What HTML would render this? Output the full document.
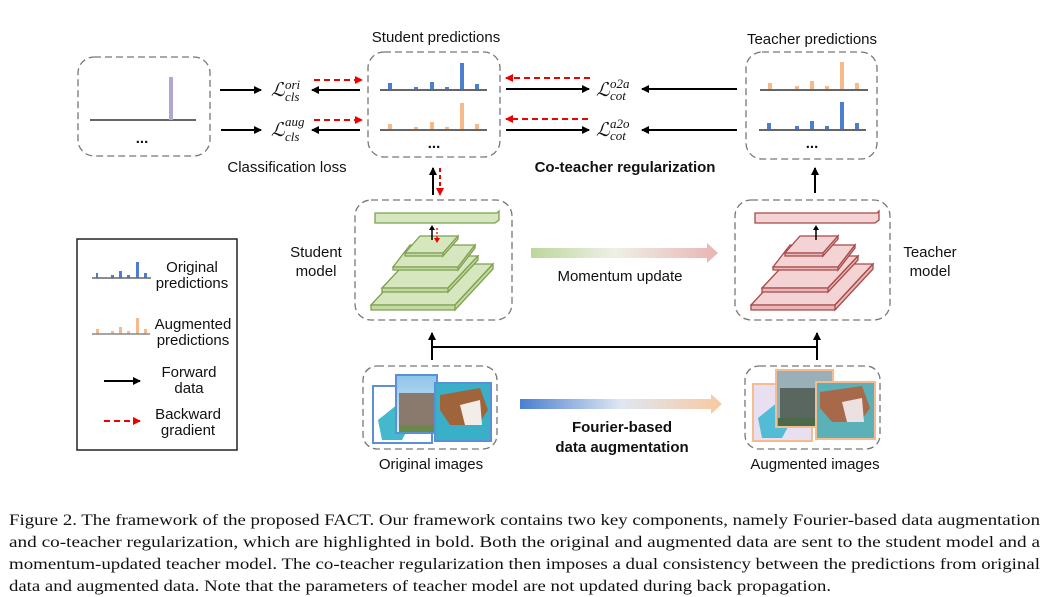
<!DOCTYPE html>
<html><head><meta charset="utf-8"><style>
body{margin:0;background:#fff;}
svg{display:block;}
.s{font-family:"Liberation Sans",sans-serif;font-size:15px;fill:#111;}
.m{font-family:"Liberation Serif",serif;font-style:italic;fill:#111;}
.c{font-family:"Liberation Serif",serif;font-size:16px;fill:#111;}
</style></head><body>
<svg width="1048" height="597" viewBox="0 0 1048 597" xmlns="http://www.w3.org/2000/svg">
<defs>
<marker id="ab" markerWidth="8" markerHeight="8" refX="7" refY="4" orient="auto" markerUnits="userSpaceOnUse"><path d="M0,0 L8,4 L0,8 Z" fill="#000"/></marker>
<marker id="ar" markerWidth="8" markerHeight="8" refX="7" refY="4" orient="auto" markerUnits="userSpaceOnUse"><path d="M0,0 L8,4 L0,8 Z" fill="#e00"/></marker>
<linearGradient id="gm" x1="0" x2="1"><stop offset="0" stop-color="#bcd79a"/><stop offset="0.45" stop-color="#eef0e6"/><stop offset="1" stop-color="#e9b4b4"/></linearGradient>
<linearGradient id="gf" x1="0" x2="1"><stop offset="0" stop-color="#4a7fcf"/><stop offset="0.5" stop-color="#dfe6f3"/><stop offset="1" stop-color="#f8c9a0"/></linearGradient>
<linearGradient id="sky" x1="0" y1="0" x2="0" y2="1"><stop offset="0" stop-color="#8ec4ea"/><stop offset="1" stop-color="#dfeef8"/></linearGradient>
</defs>
<g fill="none" stroke="#777" stroke-width="1.3" stroke-dasharray="7,4">
<rect x="78" y="57" width="132" height="99" rx="16"/>
<rect x="368" y="52" width="132" height="105" rx="16"/>
<rect x="746" y="52" width="131" height="107" rx="16"/>
<rect x="355" y="200" width="157" height="120" rx="16"/>
<rect x="735" y="200" width="155" height="120" rx="16"/>
<rect x="363" y="366" width="134" height="83" rx="14"/>
<rect x="745" y="366" width="135" height="83" rx="14"/>
</g>
<line x1="90" y1="120" x2="196" y2="120" stroke="#666" stroke-width="2"/>
<rect x="169" y="77" width="4" height="43" fill="#b3a6d0"/>
<text x="142" y="143" class="s" font-weight="bold" text-anchor="middle">...</text>
<g fill="#4a7fcf"><rect x="388" y="83" width="4" height="7"/><rect x="414" y="87" width="4" height="3"/><rect x="430" y="82" width="4" height="8"/><rect x="445" y="87" width="4" height="3"/><rect x="460" y="63" width="4" height="27"/><rect x="475" y="84" width="4" height="6"/></g>
<g fill="#f7b98a"><rect x="388" y="124" width="4" height="6"/><rect x="414" y="127" width="4" height="3"/><rect x="430" y="122" width="4" height="8"/><rect x="445" y="127" width="4" height="3"/><rect x="460" y="103" width="4" height="27"/><rect x="475" y="124" width="4" height="6"/></g>
<line x1="380" y1="90" x2="487" y2="90" stroke="#666" stroke-width="2"/>
<line x1="380" y1="130" x2="487" y2="130" stroke="#666" stroke-width="2"/>
<text x="434" y="148" class="s" font-weight="bold" text-anchor="middle">...</text>
<g fill="#f7b98a"><rect x="768" y="83" width="4" height="7"/><rect x="795" y="86" width="4" height="4"/><rect x="810" y="81" width="4" height="9"/><rect x="825" y="86" width="4" height="4"/><rect x="840" y="62" width="4" height="28"/><rect x="855" y="83" width="4" height="7"/></g>
<g fill="#4a7fcf"><rect x="767" y="123" width="4" height="7"/><rect x="795" y="126" width="4" height="4"/><rect x="810" y="121" width="4" height="9"/><rect x="825" y="126" width="4" height="4"/><rect x="840" y="102" width="4" height="28"/><rect x="855" y="123" width="4" height="7"/></g>
<line x1="760" y1="90" x2="868" y2="90" stroke="#666" stroke-width="2"/>
<line x1="759" y1="130" x2="866" y2="130" stroke="#666" stroke-width="2"/>
<text x="812" y="148" class="s" font-weight="bold" text-anchor="middle">...</text>
<text x="436" y="42" class="s" text-anchor="middle">Student predictions</text>
<text x="812" y="44" class="s" text-anchor="middle">Teacher predictions</text>
<text x="287" y="172" class="s" text-anchor="middle">Classification loss</text>
<text x="625" y="172" class="s" font-weight="bold" text-anchor="middle">Co-teacher regularization</text>
<text x="271" y="96" class="m" font-size="19">ℒ</text><text x="285" y="89" class="m" font-size="13">ori</text><text x="285" y="101" class="m" font-size="13">cls</text>
<text x="271" y="136" class="m" font-size="19">ℒ</text><text x="285" y="126" class="m" font-size="13">aug</text><text x="285" y="141" class="m" font-size="13">cls</text>
<text x="596" y="96" class="m" font-size="19">ℒ</text><text x="610" y="88" class="m" font-size="13">o2a</text><text x="610" y="100" class="m" font-size="13">cot</text>
<text x="596" y="136" class="m" font-size="19">ℒ</text><text x="610" y="128" class="m" font-size="13">a2o</text><text x="610" y="140" class="m" font-size="13">cot</text>
<g stroke="#000" stroke-width="2" marker-end="url(#ab)">
<line x1="220" y1="90" x2="261" y2="90"/><line x1="221" y1="130" x2="261" y2="130"/>
<line x1="360" y1="90" x2="312" y2="90"/><line x1="360" y1="130" x2="312" y2="130"/>
<line x1="506" y1="89" x2="589" y2="89"/><line x1="506" y1="130" x2="589" y2="130"/>
<line x1="737" y1="89" x2="642" y2="89"/><line x1="737" y1="130" x2="642" y2="130"/>
<line x1="433" y1="195" x2="433" y2="168"/>
<line x1="815" y1="193" x2="815" y2="168"/>
<line x1="432" y1="360" x2="432" y2="333"/>
<line x1="817" y1="360" x2="817" y2="333"/>
<line x1="104" y1="381" x2="140" y2="381"/>
</g>
<line x1="431" y1="347" x2="818" y2="347" stroke="#000" stroke-width="2"/>
<g stroke="#e00" stroke-width="2" stroke-dasharray="6,4" marker-end="url(#ar)">
<line x1="314" y1="80" x2="362" y2="80"/><line x1="314" y1="120" x2="362" y2="120"/>
<line x1="590" y1="78" x2="506" y2="78"/><line x1="588" y1="119" x2="506" y2="119"/>
<line x1="440" y1="168" x2="440" y2="195" stroke-dasharray="4,3"/>
<line x1="104" y1="421" x2="140" y2="421"/>
</g>
<g stroke="#7ea14e" stroke-width="1.3">
<path d="M375,213 L497,213 L499,211 L499,220 L495,223 L375,223 Z" fill="#d6e6bf"/>
<path d="M371,305 L409,264 L493,264 L455,305 Z" fill="#d6e6bf"/>
<path d="M371,305 L455,305 L455,310 L371,310 Z M455,305 L493,264 L493,269 L455,310Z" fill="#c3d9a3"/>
<path d="M382,288 L412,256 L478,256 L448,288 Z" fill="#d6e6bf"/>
<path d="M382,288 L448,288 L448,292 L382,292 Z M448,288 L478,256 L478,260 L448,292Z" fill="#c3d9a3"/>
<path d="M393,267 L410,245 L475,245 L458,267 Z" fill="#d6e6bf"/>
<path d="M393,267 L458,267 L458,270 L393,270 Z M458,267 L475,245 L475,248 L458,270Z" fill="#c3d9a3"/>
<path d="M405,253 L420,236 L458,236 L443,253 Z" fill="#d6e6bf"/>
<path d="M405,253 L443,253 L443,256 L405,256 Z M443,253 L458,236 L458,239 L443,256Z" fill="#c3d9a3"/>
</g>
<g transform="translate(380,0)" stroke="#a84848" stroke-width="1.3">
<path d="M375,213 L497,213 L499,211 L499,220 L495,223 L375,223 Z" fill="#f3d3d3"/>
<path d="M371,305 L409,264 L493,264 L455,305 Z" fill="#f3d3d3"/>
<path d="M371,305 L455,305 L455,310 L371,310 Z M455,305 L493,264 L493,269 L455,310Z" fill="#e8b8b8"/>
<path d="M382,288 L412,256 L478,256 L448,288 Z" fill="#f3d3d3"/>
<path d="M382,288 L448,288 L448,292 L382,292 Z M448,288 L478,256 L478,260 L448,292Z" fill="#e8b8b8"/>
<path d="M393,267 L410,245 L475,245 L458,267 Z" fill="#f3d3d3"/>
<path d="M393,267 L458,267 L458,270 L393,270 Z M458,267 L475,245 L475,248 L458,270Z" fill="#e8b8b8"/>
<path d="M405,253 L420,236 L458,236 L443,253 Z" fill="#f3d3d3"/>
<path d="M405,253 L443,253 L443,256 L405,256 Z M443,253 L458,236 L458,239 L443,256Z" fill="#e8b8b8"/>
</g>
<line x1="432" y1="240" x2="432" y2="228" stroke="#000" stroke-width="1.5"/><path d="M429,230 L432,225 L435,230Z" fill="#000"/>
<line x1="437" y1="228" x2="437" y2="240" stroke="#e00" stroke-width="1.3" stroke-dasharray="2,2"/><path d="M434,238 L437,243 L440,238Z" fill="#e00"/>
<line x1="816" y1="240" x2="816" y2="228" stroke="#000" stroke-width="1.5"/><path d="M813,230 L816,225 L819,230Z" fill="#000"/>
<text x="316" y="257" class="s" text-anchor="middle">Student</text><text x="316" y="276" class="s" text-anchor="middle">model</text>
<text x="930" y="257" class="s" text-anchor="middle">Teacher</text><text x="930" y="276" class="s" text-anchor="middle">model</text>
<path d="M531,248 L707,248 L707,243 L718,253 L707,263 L707,258 L531,258 Z" fill="url(#gm)"/>
<text x="620" y="281" class="s" text-anchor="middle">Momentum update</text>
<path d="M520,399 L711,399 L711,394 L722,404 L711,414 L711,409 L520,409 Z" fill="url(#gf)"/>
<text x="622" y="432" class="s" font-weight="bold" text-anchor="middle">Fourier-based</text>
<text x="622" y="452" class="s" font-weight="bold" text-anchor="middle">data augmentation</text>
<rect x="373" y="386" width="59" height="57" fill="#fff" stroke="#5b8fd6" stroke-width="2"/>
<path d="M378,420 L398,404 L410,425 L402,440 L382,440Z" fill="#44b8cc"/>
<rect x="396" y="375" width="41" height="58" fill="url(#sky)" stroke="#5b8fd6" stroke-width="2"/>
<rect x="399" y="393" width="35" height="32" fill="#8a7a6e"/><rect x="399" y="425" width="35" height="7" fill="#6a8a4a"/>
<rect x="435" y="383" width="56" height="58" fill="#3ab0c8" stroke="#5b8fd6" stroke-width="2"/>
<path d="M440,395 L480,388 L488,410 L478,425 L450,425 L440,410Z" fill="#a0643a"/><path d="M460,405 L480,400 L482,425 L465,425Z" fill="#f2ede6"/>
<rect x="753" y="384" width="59" height="57" fill="#e8e0f0" stroke="#f5bd8f" stroke-width="2"/>
<path d="M758,418 L778,402 L790,423 L782,438 L762,438Z" fill="#52bcd6"/>
<rect x="776" y="370" width="57" height="57" fill="#9ab0b8" stroke="#f5bd8f" stroke-width="2"/>
<rect x="780" y="388" width="45" height="30" fill="#5a6660"/><rect x="778" y="418" width="53" height="8" fill="#4a6a4a"/>
<rect x="816" y="382" width="59" height="57" fill="#5cb0b8" stroke="#f5bd8f" stroke-width="2"/>
<path d="M820,392 L862,386 L870,408 L860,422 L832,422 L820,408Z" fill="#a8684a"/><path d="M842,402 L862,398 L864,422 L847,422Z" fill="#ece0e0"/>
<text x="431" y="469" class="s" text-anchor="middle">Original images</text>
<text x="815" y="469" class="s" text-anchor="middle">Augmented images</text>
<rect x="77" y="239" width="160" height="211" fill="none" stroke="#222" stroke-width="1.5"/>
<g fill="#4a7fcf"><rect x="96" y="273" width="2" height="5"/><rect x="111" y="275" width="3" height="3"/><rect x="119" y="271" width="3" height="7"/><rect x="127" y="275" width="3" height="3"/><rect x="136" y="262" width="3" height="16"/><rect x="144" y="273" width="3" height="5"/></g>
<line x1="92" y1="278" x2="151" y2="278" stroke="#666" stroke-width="1.5"/>
<g fill="#f7b98a"><rect x="96" y="329" width="3" height="5"/><rect x="111" y="331" width="3" height="3"/><rect x="119" y="327" width="3" height="7"/><rect x="127" y="331" width="3" height="3"/><rect x="136" y="318" width="3" height="16"/><rect x="144" y="329" width="3" height="5"/></g>
<line x1="92" y1="334" x2="150" y2="334" stroke="#888" stroke-width="1.5"/>
<g class="s" font-size="13" text-anchor="middle">
<text x="192" y="272">Original</text><text x="192" y="288">predictions</text>
<text x="193" y="329">Augmented</text><text x="193" y="345">predictions</text>
<text x="189" y="377">Forward</text><text x="189" y="393">data</text>
<text x="188" y="419">Backward</text><text x="188" y="435">gradient</text>
</g>
<text x="9" y="525" class="c" textLength="1031" lengthAdjust="spacingAndGlyphs">Figure 2. The framework of the proposed FACT. Our framework contains two key components, namely Fourier-based data augmentation</text>
<text x="9" y="547" class="c" textLength="1031" lengthAdjust="spacingAndGlyphs">and co-teacher regularization, which are highlighted in bold.  Both the original and augmented data are sent to the student model and a</text>
<text x="9" y="569" class="c" textLength="1031" lengthAdjust="spacingAndGlyphs">momentum-updated teacher model. The co-teacher regularization then imposes a dual consistency between the predictions from original</text>
<text x="9" y="591" class="c" textLength="822" lengthAdjust="spacingAndGlyphs">data and augmented data. Note that the parameters of teacher model are not updated during back propagation.</text>
</svg>
</body></html>
